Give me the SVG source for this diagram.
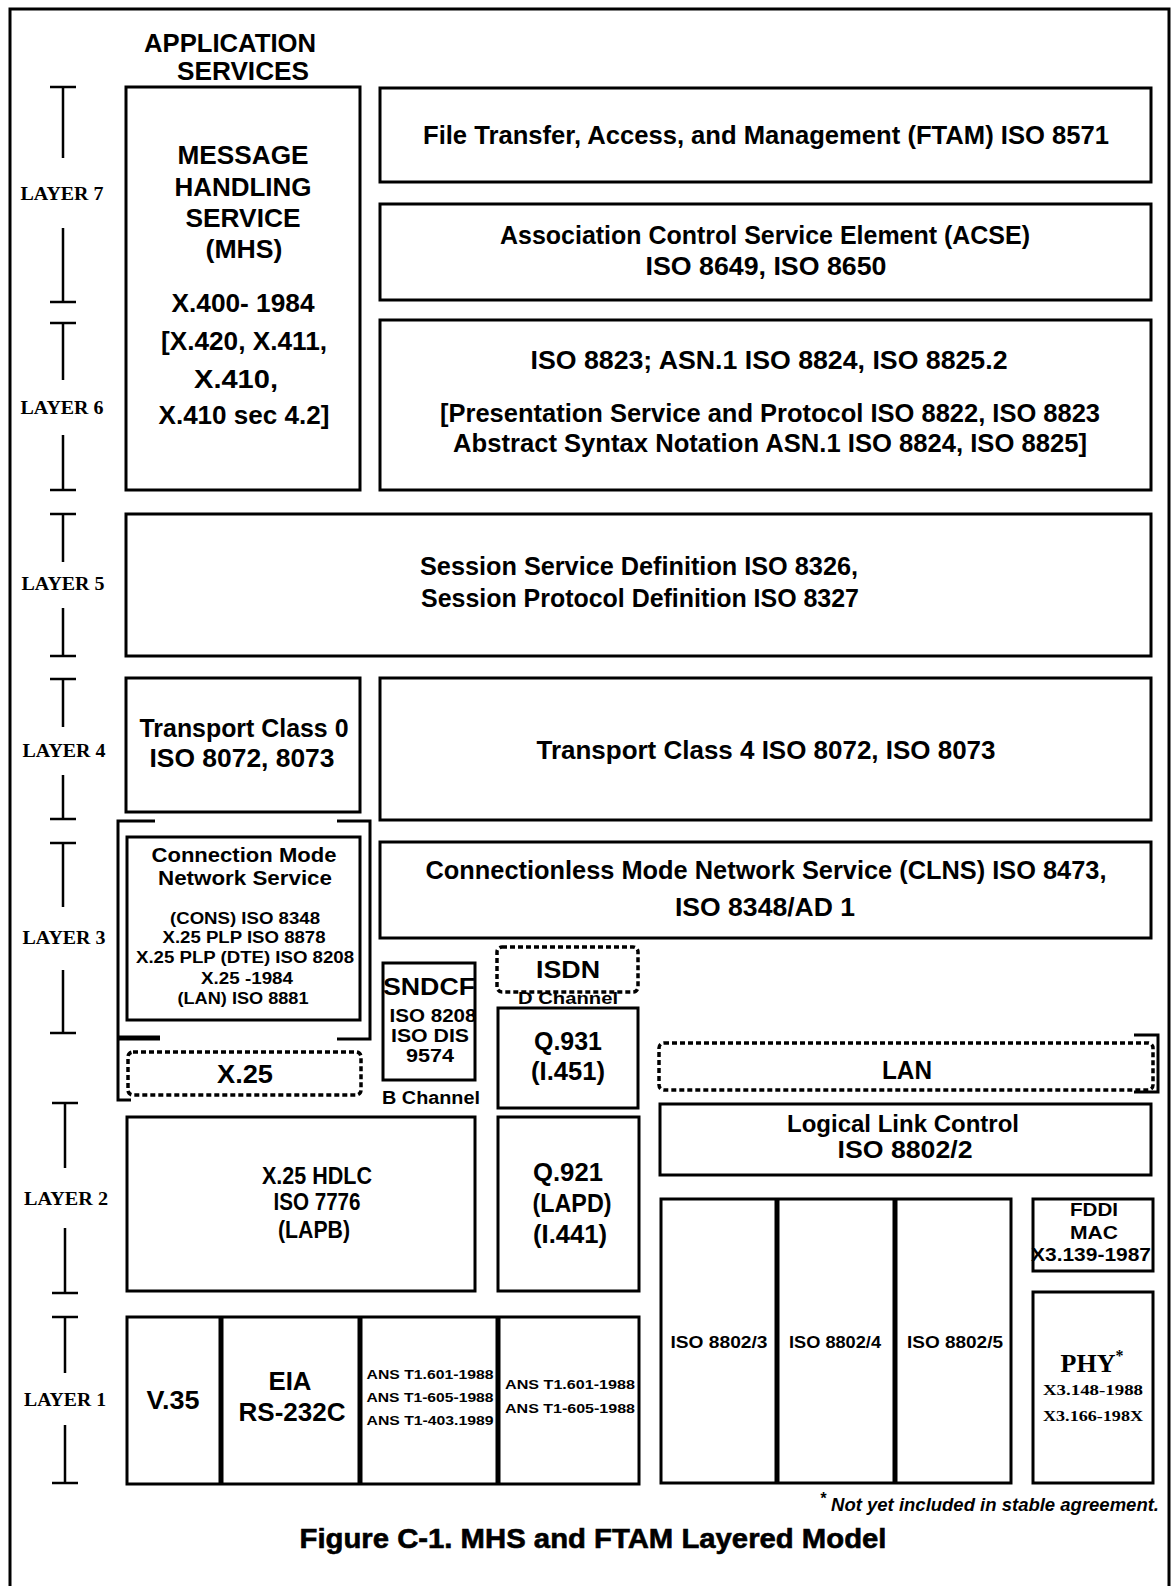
<svg xmlns="http://www.w3.org/2000/svg" width="1172" height="1586" viewBox="0 0 1172 1586">
<style>
.box{fill:#fff;stroke:#000;stroke-width:3}
.dot{fill:none;stroke:#000;stroke-width:3.5;stroke-dasharray:5 3}
.ln{fill:none;stroke:#000;stroke-width:3}
.div{fill:none;stroke:#000;stroke-width:5}
.tee{fill:none;stroke:#000;stroke-width:2.5}
.t{font-family:"Liberation Sans",Arial,sans-serif;font-weight:bold;text-anchor:middle;fill:#000}
.s{font-family:"Liberation Serif","Times New Roman",serif;font-weight:bold;text-anchor:middle;fill:#000}
</style>
<rect width="1172" height="1586" fill="#fff"/>
<path class="ln" d="M10,1586 V9 H1169 V1586"/>

<g id="header">
<text class="t" x="230" y="52" font-size="26" textLength="172" lengthAdjust="spacingAndGlyphs">APPLICATION</text>
<text class="t" x="243" y="80" font-size="26" textLength="132" lengthAdjust="spacingAndGlyphs">SERVICES</text>
</g>

<g id="layer-scale">
<path class="tee" d="M50,87 H76 M63,87 V158 M63,228 V302 M50,302 H76"/>
<text class="s" x="62" y="200" font-size="18" textLength="83" lengthAdjust="spacingAndGlyphs">LAYER 7</text>
<path class="tee" d="M50,323 H76 M63,323 V380 M63,435 V490 M50,490 H76"/>
<text class="s" x="62" y="414" font-size="18" textLength="83" lengthAdjust="spacingAndGlyphs">LAYER 6</text>
<path class="tee" d="M50,514 H76 M63,514 V562 M63,608 V656 M50,656 H76"/>
<text class="s" x="63" y="590" font-size="18" textLength="83" lengthAdjust="spacingAndGlyphs">LAYER 5</text>
<path class="tee" d="M50,679 H76 M63,679 V727 M63,775 V819 M50,819 H76"/>
<text class="s" x="64" y="757" font-size="18" textLength="83" lengthAdjust="spacingAndGlyphs">LAYER 4</text>
<path class="tee" d="M50,843 H76 M63,843 V907 M63,970 V1033 M50,1033 H76"/>
<text class="s" x="64" y="944" font-size="18" textLength="83" lengthAdjust="spacingAndGlyphs">LAYER 3</text>
<path class="tee" d="M52,1103 H78 M65,1103 V1168 M65,1228 V1293 M52,1293 H78"/>
<text class="s" x="66" y="1205" font-size="18" textLength="84" lengthAdjust="spacingAndGlyphs">LAYER 2</text>
<path class="tee" d="M52,1317 H78 M65,1317 V1373 M65,1425 V1483 M52,1483 H78"/>
<text class="s" x="65" y="1406" font-size="18" textLength="82" lengthAdjust="spacingAndGlyphs">LAYER 1</text>
</g>

<g id="mhs">
<rect class="box" x="126" y="87" width="234" height="403"/>
<text class="t" x="243" y="164" font-size="25" textLength="131" lengthAdjust="spacingAndGlyphs">MESSAGE</text>
<text class="t" x="243" y="196" font-size="25" textLength="137" lengthAdjust="spacingAndGlyphs">HANDLING</text>
<text class="t" x="243" y="227" font-size="25" textLength="115" lengthAdjust="spacingAndGlyphs">SERVICE</text>
<text class="t" x="244" y="258" font-size="25" textLength="77" lengthAdjust="spacingAndGlyphs">(MHS)</text>
<text class="t" x="243" y="312" font-size="25" textLength="143" lengthAdjust="spacingAndGlyphs">X.400- 1984</text>
<text class="t" x="244" y="350" font-size="25" textLength="166" lengthAdjust="spacingAndGlyphs">[X.420, X.411,</text>
<text class="t" x="236" y="388" font-size="25" textLength="84" lengthAdjust="spacingAndGlyphs">X.410,</text>
<text class="t" x="244" y="424" font-size="25" textLength="171" lengthAdjust="spacingAndGlyphs">X.410 sec 4.2]</text>
</g>

<g id="ftam">
<rect class="box" x="380" y="88" width="771" height="94"/>
<text class="t" x="766" y="144" font-size="25" textLength="686" lengthAdjust="spacingAndGlyphs">File Transfer, Access, and Management (FTAM) ISO 8571</text>
</g>

<g id="acse">
<rect class="box" x="380" y="204" width="771" height="96"/>
<text class="t" x="765" y="244" font-size="25" textLength="530" lengthAdjust="spacingAndGlyphs">Association Control Service Element (ACSE)</text>
<text class="t" x="766" y="275" font-size="25" textLength="241" lengthAdjust="spacingAndGlyphs">ISO 8649, ISO 8650</text>
</g>

<g id="presentation">
<rect class="box" x="380" y="320" width="771" height="170"/>
<text class="t" x="769" y="369" font-size="25" textLength="477" lengthAdjust="spacingAndGlyphs">ISO 8823; ASN.1 ISO 8824, ISO 8825.2</text>
<text class="t" x="770" y="422" font-size="25" textLength="660" lengthAdjust="spacingAndGlyphs">[Presentation Service and Protocol ISO 8822, ISO 8823</text>
<text class="t" x="770" y="452" font-size="25" textLength="634" lengthAdjust="spacingAndGlyphs">Abstract Syntax Notation ASN.1 ISO 8824, ISO 8825]</text>
</g>

<g id="session">
<rect class="box" x="126" y="514" width="1025" height="142"/>
<text class="t" x="639" y="575" font-size="25" textLength="438" lengthAdjust="spacingAndGlyphs">Session Service Definition ISO 8326,</text>
<text class="t" x="640" y="607" font-size="25" textLength="438" lengthAdjust="spacingAndGlyphs">Session Protocol Definition ISO 8327</text>
</g>

<g id="transport0">
<rect class="box" x="126" y="678" width="234" height="134"/>
<text class="t" x="244" y="737" font-size="25" textLength="209" lengthAdjust="spacingAndGlyphs">Transport Class 0</text>
<text class="t" x="242" y="767" font-size="25" textLength="185" lengthAdjust="spacingAndGlyphs">ISO 8072, 8073</text>
</g>

<g id="transport4">
<rect class="box" x="380" y="678" width="771" height="142"/>
<text class="t" x="766" y="759" font-size="25" textLength="459" lengthAdjust="spacingAndGlyphs">Transport Class 4 ISO 8072, ISO 8073</text>
</g>

<g id="cons">
<rect class="box" x="127" y="837" width="233" height="183"/>
<text class="t" x="244" y="862" font-size="21" textLength="185" lengthAdjust="spacingAndGlyphs">Connection Mode</text>
<text class="t" x="245" y="885" font-size="21" textLength="174" lengthAdjust="spacingAndGlyphs">Network Service</text>
<text class="t" x="245" y="924" font-size="16" textLength="150" lengthAdjust="spacingAndGlyphs">(CONS) ISO 8348</text>
<text class="t" x="244" y="943" font-size="16" textLength="163" lengthAdjust="spacingAndGlyphs">X.25 PLP ISO 8878</text>
<text class="t" x="245" y="963" font-size="16" textLength="218" lengthAdjust="spacingAndGlyphs">X.25 PLP (DTE) ISO 8208</text>
<text class="t" x="247" y="984" font-size="16" textLength="92" lengthAdjust="spacingAndGlyphs">X.25 -1984</text>
<text class="t" x="243" y="1004" font-size="16" textLength="131" lengthAdjust="spacingAndGlyphs">(LAN) ISO 8881</text>
</g>

<g id="clns">
<rect class="box" x="380" y="842" width="771" height="96"/>
<text class="t" x="766" y="879" font-size="25" textLength="681" lengthAdjust="spacingAndGlyphs">Connectionless Mode Network Service (CLNS) ISO 8473,</text>
<text class="t" x="765" y="916" font-size="25" textLength="180" lengthAdjust="spacingAndGlyphs">ISO 8348/AD 1</text>
</g>

<g id="x25">
<rect class="dot" x="128" y="1052" width="233" height="43" rx="5"/>
<text class="t" x="245" y="1083" font-size="25" textLength="56" lengthAdjust="spacingAndGlyphs">X.25</text>
</g>

<g id="sndcf">
<rect class="box" x="383" y="963" width="92" height="117"/>
<text class="t" x="429" y="995" font-size="24" textLength="92" lengthAdjust="spacingAndGlyphs">SNDCF</text>
<text class="t" x="433" y="1022" font-size="18" textLength="87" lengthAdjust="spacingAndGlyphs">ISO 8208</text>
<text class="t" x="430" y="1042" font-size="18" textLength="78" lengthAdjust="spacingAndGlyphs">ISO DIS</text>
<text class="t" x="430" y="1062" font-size="18" textLength="48" lengthAdjust="spacingAndGlyphs">9574</text>
<text class="t" x="431" y="1104" font-size="18" textLength="98" lengthAdjust="spacingAndGlyphs">B Channel</text>
</g>

<g id="isdn">
<rect class="dot" x="497" y="947" width="141" height="45" rx="5"/>
<text class="t" x="568" y="978" font-size="24" textLength="64" lengthAdjust="spacingAndGlyphs">ISDN</text>
<text class="t" x="568" y="1004" font-size="17" textLength="100" lengthAdjust="spacingAndGlyphs">D Channel</text>
</g>

<g id="q931">
<rect class="box" x="498" y="1008" width="140" height="100"/>
<text class="t" x="568" y="1050" font-size="25" textLength="68" lengthAdjust="spacingAndGlyphs">Q.931</text>
<text class="t" x="568" y="1080" font-size="25" textLength="74" lengthAdjust="spacingAndGlyphs">(I.451)</text>
</g>

<g id="lan">
<rect class="dot" x="659" y="1043" width="494" height="47" rx="5"/>
<text class="t" x="907" y="1079" font-size="25" textLength="50" lengthAdjust="spacingAndGlyphs">LAN</text>
</g>

<g id="llc">
<rect class="box" x="660" y="1104" width="491" height="71"/>
<text class="t" x="903" y="1132" font-size="24" textLength="232" lengthAdjust="spacingAndGlyphs">Logical Link Control</text>
<text class="t" x="905" y="1158" font-size="24" textLength="135" lengthAdjust="spacingAndGlyphs">ISO 8802/2</text>
</g>

<g id="hdlc">
<rect class="box" x="127" y="1117" width="348" height="174"/>
<text class="t" x="317" y="1184" font-size="24" textLength="110" lengthAdjust="spacingAndGlyphs">X.25 HDLC</text>
<text class="t" x="317" y="1210" font-size="24" textLength="87" lengthAdjust="spacingAndGlyphs">ISO 7776</text>
<text class="t" x="314" y="1238" font-size="24" textLength="72" lengthAdjust="spacingAndGlyphs">(LAPB)</text>
</g>

<g id="q921">
<rect class="box" x="498" y="1117" width="141" height="174"/>
<text class="t" x="568" y="1181" font-size="25" textLength="70" lengthAdjust="spacingAndGlyphs">Q.921</text>
<text class="t" x="572" y="1212" font-size="25" textLength="79" lengthAdjust="spacingAndGlyphs">(LAPD)</text>
<text class="t" x="570" y="1243" font-size="25" textLength="74" lengthAdjust="spacingAndGlyphs">(I.441)</text>
</g>

<g id="iso8802">
<rect class="box" x="661" y="1199" width="350" height="284"/>
<path class="div" d="M777,1199 V1483 M895,1199 V1483"/>
<text class="t" x="719" y="1348" font-size="16" textLength="97" lengthAdjust="spacingAndGlyphs">ISO 8802/3</text>
<text class="t" x="835" y="1348" font-size="16" textLength="92" lengthAdjust="spacingAndGlyphs">ISO 8802/4</text>
<text class="t" x="955" y="1348" font-size="16" textLength="96" lengthAdjust="spacingAndGlyphs">ISO 8802/5</text>
</g>

<g id="fddi">
<rect class="box" x="1033" y="1199" width="120" height="72"/>
<text class="t" x="1094" y="1216" font-size="18" textLength="48" lengthAdjust="spacingAndGlyphs">FDDI</text>
<text class="t" x="1094" y="1239" font-size="18" textLength="48" lengthAdjust="spacingAndGlyphs">MAC</text>
<text class="t" x="1091" y="1261" font-size="18" textLength="120" lengthAdjust="spacingAndGlyphs">X3.139-1987</text>
</g>

<g id="phy">
<rect class="box" x="1033" y="1292" width="120" height="191"/>
<text class="s" x="1092" y="1372" font-size="26" font-weight="normal">PHY<tspan font-size="16" dy="-11" font-weight="bold">*</tspan></text>
<text class="s" x="1093" y="1395" font-size="15" textLength="100" lengthAdjust="spacingAndGlyphs">X3.148-1988</text>
<text class="s" x="1093" y="1421" font-size="15" textLength="100" lengthAdjust="spacingAndGlyphs">X3.166-198X</text>
</g>

<g id="layer1-physical">
<rect class="box" x="127" y="1317" width="512" height="167"/>
<path class="div" d="M221,1317 V1484 M360,1317 V1484 M498,1317 V1484"/>
<text class="t" x="173" y="1409" font-size="26" textLength="53" lengthAdjust="spacingAndGlyphs">V.35</text>
<text class="t" x="290" y="1390" font-size="25" textLength="43" lengthAdjust="spacingAndGlyphs">EIA</text>
<text class="t" x="292" y="1421" font-size="25" textLength="107" lengthAdjust="spacingAndGlyphs">RS-232C</text>
<text class="t" x="430" y="1379" font-size="13" textLength="127" lengthAdjust="spacingAndGlyphs">ANS T1.601-1988</text>
<text class="t" x="430" y="1402" font-size="13" textLength="127" lengthAdjust="spacingAndGlyphs">ANS T1-605-1988</text>
<text class="t" x="430" y="1425" font-size="13" textLength="127" lengthAdjust="spacingAndGlyphs">ANS T1-403.1989</text>
<text class="t" x="570" y="1389" font-size="13" textLength="130" lengthAdjust="spacingAndGlyphs">ANS T1.601-1988</text>
<text class="t" x="570" y="1413" font-size="13" textLength="130" lengthAdjust="spacingAndGlyphs">ANS T1-605-1988</text>
</g>

<g id="connectors">
<path class="ln" d="M155,821 H118 V1100 H131"/>
<path class="ln" d="M337,821 H370 V1039 H337"/>
<path class="div" d="M118,1038 H160"/>
<path class="ln" d="M1134,1035 H1158 V1092 H1134"/>
</g>

<g id="footnote">
<text x="1159" y="1511" font-family="'Liberation Sans',Arial,sans-serif" font-weight="bold" font-style="italic" font-size="18.5" text-anchor="end"><tspan font-size="16" dy="-7">*</tspan><tspan dy="7"> Not yet included in stable agreement.</tspan></text>
</g>

<g id="title">
<text class="t" x="593" y="1548" font-size="28" textLength="587" lengthAdjust="spacingAndGlyphs" stroke="#000" stroke-width="0.6">Figure C-1. MHS and FTAM Layered Model</text>
</g>
</svg>
